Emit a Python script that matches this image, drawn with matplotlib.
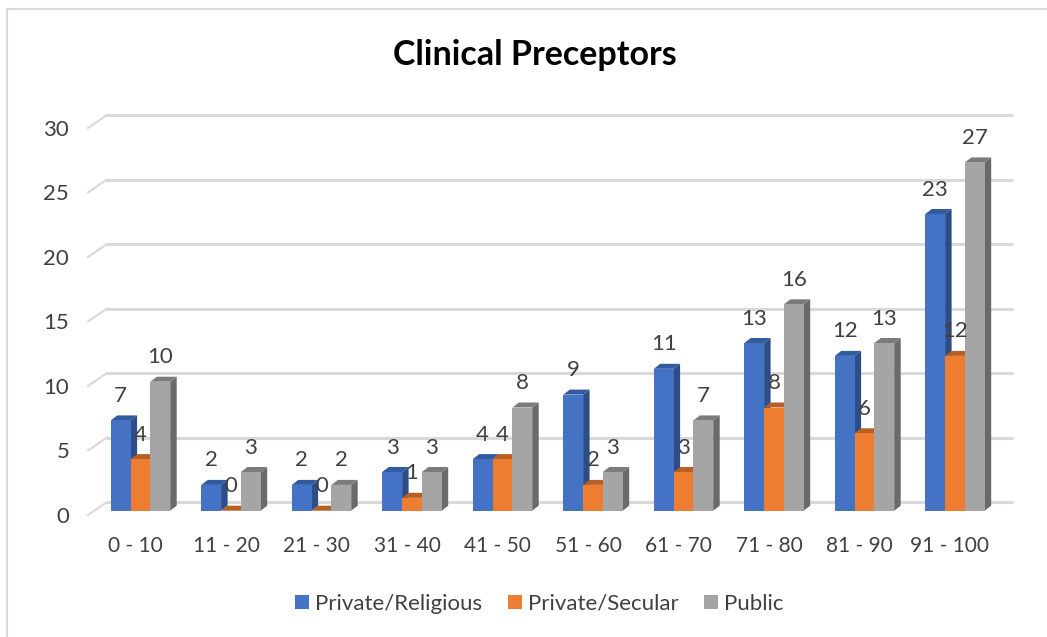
import matplotlib
matplotlib.use('Agg')
import matplotlib.pyplot as plt
from matplotlib.lines import Line2D
from matplotlib.transforms import ScaledTranslation

categories = ['0 - 10', '11 - 20', '21 - 30', '31 - 40', '41 - 50',
              '51 - 60', '61 - 70', '71 - 80', '81 - 90', '91 - 100']
religious = [7, 2, 2, 3, 4, 9, 11, 13, 12, 23]
secular = [4, 0, 0, 1, 4, 2, 3, 8, 6, 12]
public = [10, 3, 2, 3, 8, 3, 7, 16, 13, 27]
y_ticks = [0, 5, 10, 15, 20, 25, 30]

W, H = 1047, 637
# pixel layout of the plot area
left, right, y0, y30 = 88, 1012, 510.7, 123.7
first_center, spacing = 140.5, 90.5
px_x = 1 / spacing
px_y = 30 / (y0 - y30)
bar_w = 19.8 * px_x
# fake 3d depth
bar_dx, bar_dy = 6.5 * px_x, 5 * px_y
wall_dx, wall_dy = 19 * px_x, 8.7 * px_y
TXT = '#404040'
GRID = '#D9D9D9'

plt.rcParams['font.family'] = ['Lato', 'DejaVu Sans']

fig = plt.figure(figsize=(W / 100, H / 100), dpi=100)
# only the top and left edges of the chart frame are in the picture
fig.add_artist(Line2D([7 / W, 7 / W, 1], [0, 1 - 9 / H, 1 - 9 / H], color=GRID, lw=1.5))
ax = fig.add_axes([left / W, 1 - y0 / H, (right - left) / W, (y0 - y30) / H])
ax.patch.set_visible(False)
ax.set_xlim((left - first_center) * px_x, (right - first_center) * px_x)
ax.set_ylim(0, 30)
for s in ax.spines.values():
    s.set_visible(False)

# back wall gridlines and the short diagonal ones on the left
x_back = ax.get_xlim()[0] + wall_dx
x_end = ax.get_xlim()[1]
for t in y_ticks:
    ax.plot([x_back, x_end], [t + wall_dy, t + wall_dy], color=GRID, lw=2.2, zorder=1,
            solid_capstyle='round', clip_on=False)
    ax.plot([ax.get_xlim()[0], x_back], [t - 4.3 * px_y, t + wall_dy], color=GRID, lw=1.5,
            zorder=1, clip_on=False)

series = [
    ('Private/Religious', religious, -1, '#4472C4', '#2C4D87', '#325A9F'),
    ('Private/Secular', secular, 0, '#ED7D31', '#A85A24', '#B85F25'),
    ('Public', public, 1, '#A5A5A5', '#6A6A6A', '#7B7B7B'),
]

# draw bars series by series so the later ones cover the sides of the earlier ones
z = 3
handles = []
for name, values, pos, front, side, top in series:
    for i, v in enumerate(values):
        x1 = i + pos * bar_w - bar_w / 2
        x2 = x1 + bar_w
        ax.fill([x2, x2 + bar_dx, x2 + bar_dx, x2], [0, bar_dy, v + bar_dy, v],
                color=side, lw=0, zorder=z, clip_on=False)
        ax.fill([x1, x2, x2 + bar_dx, x1 + bar_dx], [v, v, v + bar_dy, v + bar_dy],
                color=top, lw=0, zorder=z, clip_on=False)
        ax.annotate(str(v), (i + pos * bar_w, v), xytext=(0, 17.6), textcoords='offset points',
                    ha='center', va='center', fontsize=16, color=TXT, zorder=10)
    bars = ax.bar([i + pos * bar_w for i in range(len(values))], values, width=bar_w,
                  color=front, zorder=z + 1, label=name)
    handles.append(bars)
    z += 2

ax.set_xticks(range(len(categories)), categories)
ax.set_yticks(y_ticks)
ax.tick_params(axis='both', length=0, labelcolor=TXT)
ax.tick_params(axis='x', pad=18.5, labelsize=15)
ax.tick_params(axis='y', pad=13.5, labelsize=16)
for lab in ax.get_yticklabels():
    lab.set_transform(lab.get_transform() + ScaledTranslation(0, -2.8 / 72, fig.dpi_scale_trans))
for lab in ax.get_xticklabels():
    lab.set_transform(lab.get_transform() + ScaledTranslation(-3.6 / 72, 0, fig.dpi_scale_trans))

fig.text(535 / W, 1 - 55 / H, 'Clinical Preceptors', fontsize=24.5, fontweight='bold',
         color='black', ha='center', va='center')

ax.legend(handles=handles, loc='center', bbox_to_anchor=(539.5 / W, 1 - 604 / H),
          bbox_transform=fig.transFigure, ncol=3, frameon=False, fontsize=16,
          labelcolor=TXT, handlelength=0.63, handleheight=0.63, handletextpad=0.27,
          columnspacing=1.15)

fig.savefig('out.png', dpi=100)
